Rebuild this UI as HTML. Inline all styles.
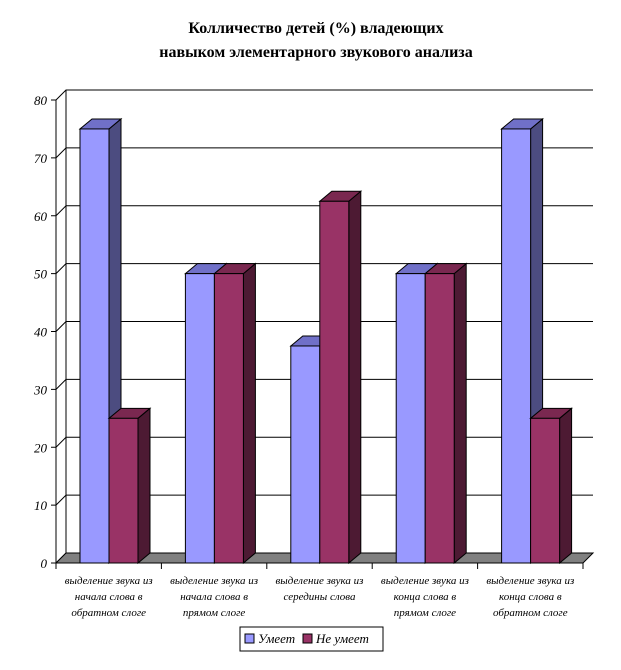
<!DOCTYPE html>
<html><head><meta charset="utf-8"><style>
body{margin:0;background:#fff;width:621px;height:665px;overflow:hidden}
svg text{font-family:"Liberation Serif","DejaVu Serif",serif}
</style></head><body>
<svg id="chart" width="621" height="665" xmlns="http://www.w3.org/2000/svg">
<text x="316" y="33" text-anchor="middle" font-size="16" font-weight="bold">Колличество детей (%) владеющих</text>
<text x="316" y="57" text-anchor="middle" font-size="16" font-weight="bold">навыком элементарного звукового анализа</text>
<g id="grid"></g><g id="bars"></g><g id="axes"></g>
<g>
<rect x="240" y="627" width="143" height="24" fill="#fff" stroke="#000"/>
<rect x="245" y="634" width="9" height="9" fill="#9999ff" stroke="#000"/>
<text x="258" y="643" font-size="13" font-style="italic">Умеет</text>
<rect x="303" y="634" width="9" height="9" fill="#993366" stroke="#000"/>
<text x="316" y="643" font-size="13" font-style="italic">Не умеет</text>
</g>
</svg>
<script>
const categories=[["выделение звука из","начала слова в","обратном слоге"],["выделение звука из","начала слова в","прямом слоге"],["выделение звука из","середины слова"],["выделение звука из","конца слова в","прямом слоге"],["выделение звука из","конца слова в","обратном слоге"]];
const seriesCan=[75,50,37.5,50,75];
const seriesCannot=[25,50,62.5,50,25];
const ticks=[0,10,20,30,40,50,60,70,80];
const NS="http://www.w3.org/2000/svg";
const X0=56,X1=583,Y0=563,Y80=100,DX=10,DY=10;
const y=v=>Y0-(v/80)*(Y0-Y80);
const cw=(X1-X0)/categories.length;
const x=i=>X0+i*cw;
function mk(parent,tag,attrs){const e=document.createElementNS(NS,tag);for(const k in attrs)e.setAttribute(k,attrs[k]);document.getElementById(parent).appendChild(e);return e;}
// back wall grid
let e=mk('grid','polyline',{points:`${X0},${Y0} ${X0+DX},${Y0-DY} ${X0+DX},${Y80-DY}`,fill:'none',stroke:'#000'});


ticks.forEach(t=>{if(t===0)return;
 const g=mk('grid','polyline',{points:`${X0},${y(t)} ${X0+DX},${y(t)-DY} ${X1+DX},${y(t)-DY}`,fill:'none',stroke:'#000'});
 
 
});
const fl=mk('grid','polygon',{points:`${X0},${Y0} ${X1},${Y0} ${X1+DX},${Y0-DY} ${X0+DX},${Y0-DY}`,fill:'#808080',stroke:'#000'});


function bar(name,xl,w,v,front,top,side){
 const g=document.createElementNS(NS,'g');document.getElementById('bars').appendChild(g);
 
 
 const yt=y(v),d=12;
 const a=(t,at)=>{const q=document.createElementNS(NS,t);for(const k in at)q.setAttribute(k,at[k]);g.appendChild(q);};
 a('polygon',{points:`${xl+w},${yt} ${xl+w+d},${yt-DY} ${xl+w+d},${Y0-DY} ${xl+w},${Y0}`,fill:side,stroke:'#000'});
 a('polygon',{points:`${xl},${yt} ${xl+d},${yt-DY} ${xl+w+d},${yt-DY} ${xl+w},${yt}`,fill:top,stroke:'#000'});
 a('rect',{x:xl,y:yt,width:w,height:Y0-yt,fill:front,stroke:'#000'});
}
categories.forEach((c,i)=>{
 const bx=x(i)+24;
 bar('bar-can-'+i,bx,29,seriesCan[i],'#9999ff','#7070c8','#4c4c80');
 bar('bar-cannot-'+i,bx+29,29,seriesCannot[i],'#993366','#7a2850','#4d1a33');
});
// axes
mk('axes','line',{x1:X0,y1:Y80,x2:X0,y2:Y0,stroke:'#000'});
mk('axes','line',{x1:X0,y1:Y0,x2:X1,y2:Y0,stroke:'#000'});
ticks.forEach(t=>{
 mk('axes','line',{x1:X0-5,y1:y(t),x2:X0,y2:y(t),stroke:'#000'});
 const tx=mk('axes','text',{x:X0-9,y:y(t)+5,'text-anchor':'end','font-size':'13','font-style':'italic'});
 tx.textContent=t;
 
 
});
for(let i=0;i<=categories.length;i++)mk('axes','line',{x1:x(i),y1:Y0,x2:x(i),y2:Y0+6,stroke:'#000'});
categories.forEach((c,i)=>{
 const tx=mk('axes','text',{'text-anchor':'middle','font-size':'11','font-style':'italic'});
 
 
 c.forEach((l,j)=>{const ts=document.createElementNS(NS,'tspan');ts.setAttribute('x',x(i)+cw/2);ts.setAttribute('y',Y0+21+j*16);ts.textContent=l;tx.appendChild(ts);});
});
</script>
</body></html>
